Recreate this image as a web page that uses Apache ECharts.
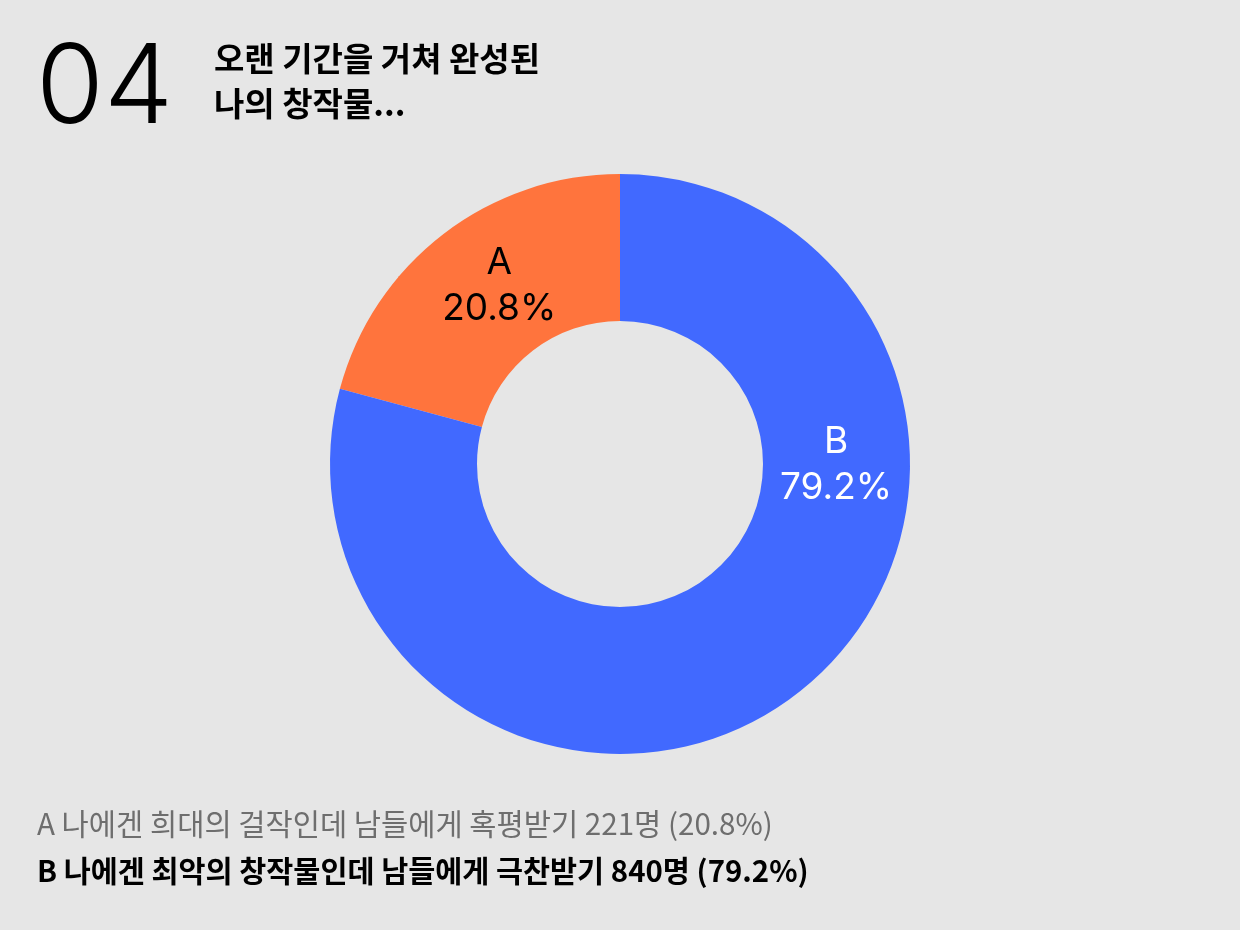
<!DOCTYPE html>
<html><head><meta charset="utf-8">
<script src="https://cdn.jsdelivr.net/npm/echarts@6/dist/echarts.min.js"></script>
<style>html,body{margin:0;padding:0;background:#e6e6e6}#c{width:1240px;height:930px}</style>
</head><body><div id="c"></div>
<script>
const categories = ['A', 'B'];
const counts = [221, 840];
const percents = ['20.8%', '79.2%'];
const descriptions = ['나에겐 희대의 걸작인데 남들에게 혹평받기', '나에겐 최악의 창작물인데 남들에게 극찬받기'];
const titleNumber = '04';
const titleLines = ['오랜 기간을 거쳐 완성된', '나의 창작물...'];
const colors = ['#ff743d', '#4169ff'];

const FONT = 'Inter, "Noto Sans CJK KR", sans-serif';
const KFONT = '"Noto Sans CJK KR", sans-serif';
const chart = echarts.init(document.getElementById('c'));
const cx = 620, cy = 464, rOut = 290, rIn = 143;
const labelAngles = [124, 0];
const labelR = 216;

chart.setOption({
  backgroundColor: '#e6e6e6',
  animation: false,
  graphic: [
    { type: 'text', left: 36, top: 35, style: { text: titleNumber, font: '300 110px ' + FONT, fill: '#000' } },
    { type: 'text', left: 214, top: 36, style: { text: titleLines.join('\n'), font: 'bold 33px ' + KFONT, fill: '#000', lineHeight: 45 } },
    { type: 'text', left: 37, top: 809, style: { text: categories[0] + ' ' + descriptions[0] + ' ' + counts[0] + '명 (' + percents[0] + ')', font: '400 29.6px ' + KFONT, fill: '#6e6e6e' } },
    { type: 'text', left: 37, top: 856, style: { text: categories[1] + ' ' + descriptions[1] + ' ' + counts[1] + '명 (' + percents[1] + ')', font: 'bold 29.4px ' + KFONT, fill: '#000' } }
  ],
  series: [{
    type: 'pie',
    center: [cx, cy],
    radius: [rIn, rOut],
    startAngle: 90,
    clockwise: false,
    silent: true,
    itemStyle: { borderWidth: 0 },
    label: {
      show: true,
      position: 'inside',
      formatter: p => p.name + '\n' + percents[p.dataIndex],
      fontFamily: FONT,
      fontSize: 37,
      lineHeight: 46,
      color: '#000'
    },
    labelLayout: function (params) {
      const a = labelAngles[params.dataIndex] * Math.PI / 180;
      return { x: cx + labelR * Math.cos(a), y: cy - labelR * Math.sin(a) + 1, align: 'center', verticalAlign: 'middle' };
    },
    data: categories.map((c, i) => ({
      name: c, value: counts[i],
      itemStyle: { color: colors[i] },
      label: { color: i === 1 ? '#fff' : '#000' }
    }))
  }]
});
</script></body></html>
